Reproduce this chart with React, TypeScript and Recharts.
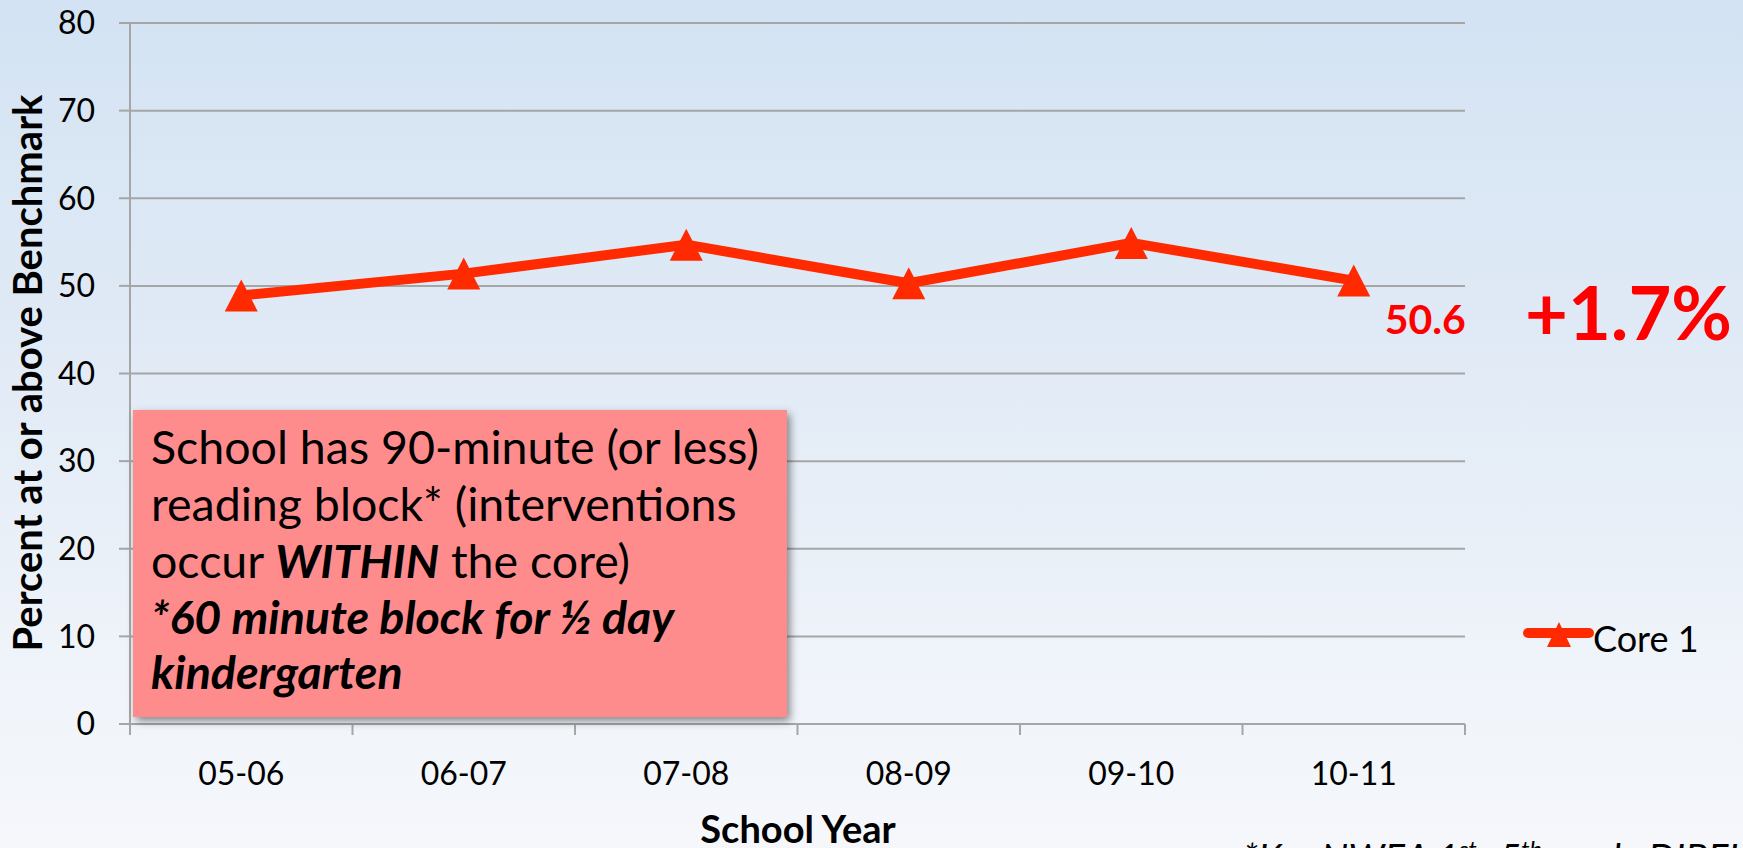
import React from 'react';
import { LineChart, Line, XAxis, YAxis, CartesianGrid, LabelList } from 'recharts';

// chart data
const years = ['05-06', '06-07', '07-08', '08-09', '09-10', '10-11'];
const core1 = [48.9, 51.4, 54.7, 50.3, 54.9, 50.6];
const yTicks = [0, 10, 20, 30, 40, 50, 60, 70, 80];
const seriesName = 'Core 1';
const changeText = '+1.7%';

const data = years.map((year, i) => ({ year, core1: core1[i] }));

const W = 1743;
const H = 848;
const margin = { top: 23, right: 278, bottom: 64, left: 70 };
const Y_AXIS_W = 60;
const X_AXIS_H = 60;
const plotLeft = margin.left + Y_AXIS_W;
const plotRight = W - margin.right;
const band = (plotRight - plotLeft) / years.length;

const FONT = "Lato, 'Open Sans', sans-serif";
const RED_LINE = '#ff2a00';
const RED_TEXT = '#ff0000';
const GRID = '#a6a6a6';

// annotation box text
const boxLines = [
  [{ t: 'School has 90-minute (or less)', b: false }],
  [{ t: 'reading block* (interventions', b: false }],
  [{ t: 'occur ', b: false }, { t: 'WITHIN', b: true }, { t: ' the core)', b: false }],
  [{ t: '*60 minute block for ½ day', b: true }],
  [{ t: 'kindergarten', b: true }],
];
const boxBaselines = [464, 521, 578, 634, 689];

const XTick = (props: any) => {
  const { x, y, payload, index } = props;
  const axisY = y - 11;
  return (
    <g>
      <line x1={x - band / 2} x2={x - band / 2} y1={axisY} y2={y} stroke={GRID} strokeWidth={2} />
      {index === years.length - 1 && (
        <line x1={x + band / 2} x2={x + band / 2} y1={axisY} y2={y} stroke={GRID} strokeWidth={2} />
      )}
      <text x={x} y={y + 50} textAnchor="middle" fontSize={32} fill="#000" fontFamily={FONT}>
        {payload.value}
      </text>
    </g>
  );
};

const TriangleDot = (props: any) => {
  const { cx, cy, index } = props;
  if (cx == null || cy == null) return null;
  const hw = 16.5;
  const hh = 16;
  return (
    <polygon
      key={`tri-${index}`}
      points={`${cx},${cy - hh} ${cx + hw},${cy + hh} ${cx - hw},${cy + hh}`}
      fill={RED_LINE}
    />
  );
};

const LastLabel = (props: any) => {
  const { x, y, value, index } = props;
  if (index !== core1.length - 1) return null;
  return (
    <text x={x + 31} y={y + 53} fontSize={41} fontWeight={700} fill={RED_TEXT} fontFamily={FONT}>
      {value}
    </text>
  );
};

export default function App() {
  return (
    <div
      style={{
        position: 'absolute',
        left: 0,
        top: 0,
        width: W,
        height: H,
        overflow: 'hidden',
        fontFamily: FONT,
        background: 'linear-gradient(to bottom, #d3e3f3 0%, #e2ebf6 45%, #f0f4fa 80%, #f5f7fb 100%)',
      }}
    >
      <LineChart width={W} height={H} data={data} margin={margin}>
        <CartesianGrid vertical={false} stroke={GRID} strokeWidth={2} />
        <XAxis
          dataKey="year"
          height={X_AXIS_H}
          padding={{ left: band / 2, right: band / 2 }}
          axisLine={{ stroke: GRID, strokeWidth: 2 }}
          tickLine={false}
          tickSize={11}
          tickMargin={0}
          interval={0}
          tick={<XTick />}
        />
        <YAxis
          width={Y_AXIS_W}
          domain={[0, 80]}
          ticks={yTicks}
          interval={0}
          axisLine={{ stroke: GRID, strokeWidth: 2 }}
          tickLine={{ stroke: GRID, strokeWidth: 2 }}
          tickSize={11}
          tickMargin={24}
          tick={{ fontSize: 32, fill: '#000', fontFamily: FONT }}
        />
        <Line
          type="linear"
          dataKey="core1"
          name={seriesName}
          stroke={RED_LINE}
          strokeWidth={10}
          strokeLinejoin="round"
          dot={TriangleDot}
          activeDot={false}
          isAnimationActive={false}
        >
          <LabelList dataKey="core1" content={LastLabel} />
        </Line>
      </LineChart>

      <svg
        width={W}
        height={H}
        style={{ position: 'absolute', left: 0, top: 0, pointerEvents: 'none' }}
      >
        <defs>
          <filter id="shadow" x="-10%" y="-10%" width="120%" height="130%">
            <feDropShadow dx="3" dy="4" stdDeviation="4" floodColor="#000" floodOpacity="0.45" />
          </filter>
        </defs>

        {/* y axis title */}
        <text
          x={42}
          y={373}
          transform="rotate(-90, 42, 373)"
          textAnchor="middle"
          fontSize={40}
          fontWeight={700}
          fill="#000"
          fontFamily={FONT}
        >
          Percent at or above Benchmark
        </text>

        {/* x axis title */}
        <text x={798} y={843} textAnchor="middle" fontSize={38} fontWeight={700} fill="#000" fontFamily={FONT}>
          School Year
        </text>

        {/* change callout */}
        <text x={1525} y={340} fontSize={74} fontWeight={700} fill={RED_TEXT} fontFamily={FONT}>
          {changeText}
        </text>

        {/* legend */}
        <line x1={1528} x2={1589} y1={633} y2={633} stroke={RED_LINE} strokeWidth={10} strokeLinecap="round" />
        <polygon points="1559,622 1571,647 1547,647" fill={RED_LINE} />
        <text x={1593} y={652} fontSize={36} fill="#000" fontFamily={FONT}>
          {seriesName}
        </text>

        {/* annotation box */}
        <rect x={133} y={410} width={654} height={307} fill="#ff8c8c" filter="url(#shadow)" />
        {boxLines.map((line, i) => (
          <text key={i} x={151} y={boxBaselines[i]} fontSize={46.5} fill="#000" fontFamily={FONT}>
            {line.map((seg, j) => (
              <tspan key={j} fontWeight={seg.b ? 700 : 400} fontStyle={seg.b ? 'italic' : 'normal'}>
                {seg.t}
              </tspan>
            ))}
          </text>
        ))}

        {/* footnote, cut off by the slide edge */}
        <text x={1243} y={872} fontSize={38} fontStyle="italic" fill="#000" fontFamily={FONT}>
          *K – NWEA 1
          <tspan fontSize={24} dy={-14}>st</tspan>
          <tspan dy={14}>–5</tspan>
          <tspan fontSize={24} dy={-14}>th</tspan>
          <tspan dy={14}> grade DIBELS</tspan>
        </text>
      </svg>
    </div>
  );
}
